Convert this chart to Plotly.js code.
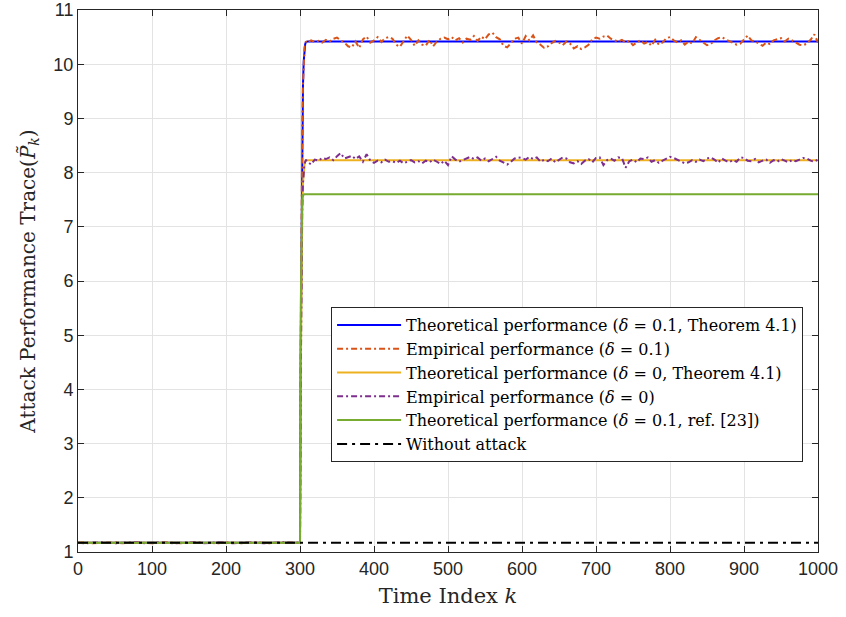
<!DOCTYPE html>
<html>
<head>
<meta charset="utf-8">
<script src="https://cdn.plot.ly/plotly-3.0.1.min.js"></script>
<style>html,body{margin:0;padding:0;background:#fff;}#chart{width:846px;height:617px;}</style>
</head>
<body>
<div id="chart"></div>
<script>
// ---- Data ----
const theoK = [0, 300, 301, 302, 303, 304, 305, 306, 307, 308, 310, 1000];
const theoDelta01 = [1.17, 1.17, 4.8, 7.2, 8.7, 9.6, 10.05, 10.28, 10.37, 10.41, 10.42, 10.42];
const theoDelta0  = [1.17, 1.17, 4.1, 6.1, 7.2, 7.8, 8.05, 8.15, 8.20, 8.22, 8.23, 8.23];
const theoRef23   = [1.17, 1.17, 5.5, 7.2, 7.5, 7.58, 7.6, 7.6, 7.6, 7.6, 7.6, 7.6];
const noAttackK = [0, 1000];
const noAttack  = [1.17, 1.17];

// empirical, before attack (k = 0..300 step 10)
const empPre01 = [1.17,1.18,1.16,1.17,1.17,1.18,1.16,1.17,1.18,1.17,1.16,1.17,1.18,1.17,1.16,1.17,1.18,1.17,1.17,1.16,1.18,1.17,1.16,1.17,1.18,1.17,1.16,1.17,1.18,1.17,1.17];
const empPre0  = [1.17,1.16,1.17,1.18,1.17,1.16,1.17,1.17,1.18,1.16,1.17,1.18,1.17,1.16,1.17,1.17,1.18,1.16,1.17,1.18,1.17,1.16,1.17,1.17,1.18,1.16,1.17,1.17,1.18,1.17,1.17];
// empirical, rise (k = 301..309)
const empRise01 = [4.9, 7.3, 8.8, 9.6, 10.05, 10.3, 10.38, 10.42, 10.40];
const empRise0  = [4.2, 6.2, 7.3, 7.8, 8.05, 8.15, 8.20, 8.24, 8.21];
// empirical, after attack (k = 310..1000 step 5)
const empPost01 = [
 10.40,10.44,10.41,10.43,10.40,10.45,10.42,10.47,10.49,10.44,
 10.40,10.33,10.31,10.42,10.30,10.46,10.51,10.40,10.44,10.50,
 10.41,10.48,10.50,10.47,10.36,10.32,10.43,10.53,10.45,10.34,
 10.44,10.36,10.34,10.45,10.33,10.42,10.47,10.49,10.46,10.50,
 10.44,10.48,10.40,10.47,10.45,10.52,10.43,10.51,10.46,10.55,
 10.58,10.50,10.46,10.34,10.31,10.40,10.47,10.49,10.38,10.52,
 10.44,10.53,10.40,10.36,10.30,10.33,10.39,10.43,10.40,10.35,
 10.42,10.38,10.29,10.33,10.28,10.31,10.36,10.46,10.49,10.47,
 10.51,10.53,10.47,10.44,10.42,10.45,10.40,10.43,10.35,10.40,
 10.44,10.38,10.41,10.34,10.45,10.36,10.40,10.48,10.50,10.44,
 10.40,10.44,10.36,10.42,10.38,10.50,10.45,10.41,10.35,10.37,
 10.44,10.48,10.50,10.46,10.43,10.40,10.36,10.38,10.45,10.53,
 10.44,10.42,10.38,10.34,10.40,10.37,10.44,10.46,10.48,10.42,
 10.47,10.44,10.40,10.36,10.35,10.38,10.45,10.55,10.40];
const empPost0 = [
 8.20,8.15,8.24,8.22,8.27,8.25,8.28,8.23,8.30,8.36,
 8.26,8.29,8.31,8.25,8.30,8.20,8.34,8.22,8.18,8.22,
 8.19,8.24,8.20,8.21,8.18,8.22,8.17,8.20,8.23,8.19,
 8.21,8.17,8.22,8.19,8.24,8.20,8.16,8.22,8.14,8.30,
 8.24,8.20,8.23,8.27,8.29,8.25,8.28,8.22,8.26,8.21,
 8.25,8.29,8.22,8.18,8.15,8.20,8.26,8.28,8.27,8.24,
 8.29,8.25,8.28,8.20,8.24,8.21,8.26,8.19,8.24,8.28,
 8.26,8.19,8.17,8.21,8.16,8.22,8.25,8.19,8.27,8.28,
 8.14,8.23,8.26,8.22,8.28,8.27,8.09,8.21,8.24,8.19,
 8.26,8.25,8.28,8.20,8.23,8.18,8.22,8.26,8.29,8.27,
 8.24,8.20,8.17,8.19,8.23,8.20,8.24,8.21,8.26,8.28,
 8.24,8.18,8.26,8.22,8.19,8.23,8.20,8.28,8.27,8.22,
 8.21,8.25,8.19,8.22,8.24,8.18,8.23,8.20,8.25,8.22,
 8.19,8.23,8.21,8.24,8.27,8.26,8.22,8.20,8.24];

const legendNames = [
 'Theoretical performance (<i>δ</i> = 0.1, Theorem 4.1)',
 'Empirical performance (<i>δ</i> = 0.1)',
 'Theoretical performance (<i>δ</i> = 0, Theorem 4.1)',
 'Empirical performance (<i>δ</i> = 0)',
 'Theoretical performance (<i>δ</i> = 0.1, ref. [23])',
 'Without attack'
];

// ---- Build index arrays ----
const preK = [], riseK = [], postK = [];
for (let i = 0; i < empPre01.length; i++) preK.push(i * 10);
for (let i = 0; i < empRise01.length; i++) riseK.push(301 + i);
for (let i = 0; i < empPost01.length; i++) postK.push(310 + i * 5);
const empK = preK.concat(riseK, postK);
const emp01 = empPre01.concat(empRise01, empPost01);
const emp0 = empPre0.concat(empRise0, empPost0);

const dd = '6px,3px,2px,3px';
const traces = [
 {x: theoK, y: theoDelta01, name: legendNames[0], mode: 'lines', line: {color: '#0000FF', width: 2}},
 {x: empK, y: emp01, name: legendNames[1], mode: 'lines', line: {color: '#D95319', width: 2, dash: dd}},
 {x: theoK, y: theoDelta0, name: legendNames[2], mode: 'lines', line: {color: '#EDB120', width: 2}},
 {x: empK, y: emp0, name: legendNames[3], mode: 'lines', line: {color: '#7E2F8E', width: 2, dash: dd}},
 {x: theoK, y: theoRef23, name: legendNames[4], mode: 'lines', line: {color: '#77AC30', width: 2}},
 {x: noAttackK, y: noAttack, name: legendNames[5], mode: 'lines', line: {color: '#000000', width: 2, dash: '10px,5px,3px,5px'}}
];

const serif = 'DejaVu Serif, serif';
const axisCommon = {
  showline: true, linecolor: '#262626', linewidth: 1, mirror: 'ticks',
  ticks: 'inside', ticklen: 6, tickcolor: '#262626',
  showgrid: true, gridcolor: '#e3e3e3', gridwidth: 1, zeroline: false,
  tickfont: {family: 'Liberation Sans, Arial, sans-serif', size: 18, color: '#262626'}
};

const layout = {
  width: 846, height: 617,
  margin: {l: 78, r: 28, t: 10, b: 65},
  paper_bgcolor: '#ffffff', plot_bgcolor: '#ffffff',
  showlegend: true,
  xaxis: Object.assign({}, axisCommon, {
    range: [0, 1000], dtick: 100, tick0: 0,
    title: {text: 'Time Index <i>k</i>', font: {family: serif, size: 21, color: '#262626'}, standoff: 10}
  }),
  yaxis: Object.assign({}, axisCommon, {
    range: [1, 11], dtick: 1, tick0: 1,
    title: {text: 'Attack Performance Trace(<i>P̃</i><sub><i>k</i></sub>)', font: {family: serif, size: 20, color: '#262626'}, standoff: 12}
  }),
  legend: {
    x: 0.342, y: 0.452, xanchor: 'left', yanchor: 'top',
    bgcolor: '#ffffff', bordercolor: '#262626', borderwidth: 1,
    font: {family: serif, size: 16, color: '#000'},
    itemwidth: 64, tracegroupgap: 0
  }
};

Plotly.newPlot('chart', traces, layout, {displayModeBar: false, staticPlot: true});
</script>
</body>
</html>
